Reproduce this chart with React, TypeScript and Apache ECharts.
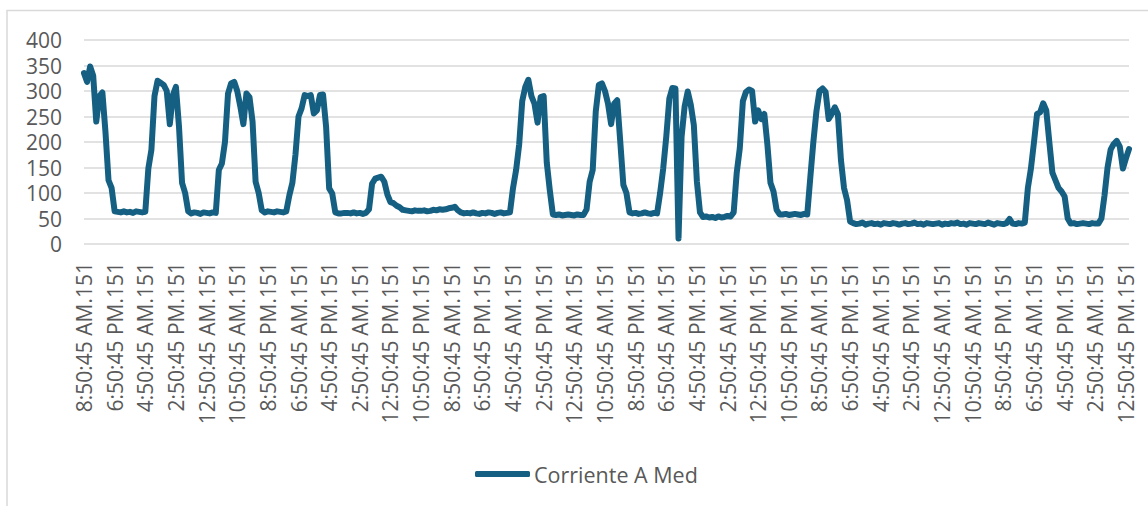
import React, { useEffect, useRef } from "react";
import * as echarts from "echarts";

// Hourly samples, starting 8:50:45 AM
const corrienteAMed: number[] = [
  335, 318, 348, 330, 240, 290, 297, 220, 125, 110,
  64, 63, 62, 64, 62, 63, 61, 64, 63, 62,
  63, 148, 185, 290, 320, 316, 312, 300, 235, 292,
  308, 230, 120, 100, 64, 60, 62, 61, 59, 62,
  61, 60, 62, 61, 145, 158, 200, 295, 315, 318,
  300, 270, 235, 295, 288, 240, 122, 100, 66, 62,
  64, 63, 62, 64, 63, 62, 64, 95, 120, 175,
  250, 266, 292, 290, 292, 256, 262, 292, 293, 230,
  109, 99, 62, 60, 60, 61, 61, 60, 62, 60,
  61, 59, 61, 68, 118, 128, 130, 132, 122, 97,
  82, 80, 75, 72, 67, 66, 65, 64, 66, 65,
  65, 66, 64, 65, 67, 66, 68, 67, 68, 70,
  71, 73, 66, 62, 60, 61, 60, 62, 60, 59,
  61, 60, 62, 61, 59, 61, 62, 60, 61, 62,
  110, 145, 195, 280, 308, 322, 290, 275, 238, 288,
  290, 160, 105, 58, 57, 58, 56, 57, 58, 57,
  56, 58, 57, 57, 68, 122, 145, 260, 312, 315,
  300, 275, 235, 275, 282, 200, 116, 100, 62, 60,
  61, 59, 60, 62, 60, 59, 61, 60, 100, 148,
  210, 285, 306, 305, 11, 210, 270, 299, 273, 233,
  122, 62, 53, 54, 52, 53, 51, 54, 52, 53,
  55, 54, 62, 140, 188, 280, 298, 303, 300, 240,
  262, 245, 255, 195, 120, 103, 67, 58, 58, 59,
  57, 58, 59, 58, 57, 59, 58, 130, 200, 260,
  300, 305, 298, 245, 255, 268, 255, 165, 110, 86,
  44, 41, 39, 40, 42, 38, 40, 41, 39, 40,
  38, 41, 40, 39, 41, 40, 38, 40, 41, 39,
  40, 42, 39, 40, 38, 41, 40, 39, 40, 41,
  38, 40, 39, 41, 40, 42, 39, 40, 38, 41,
  40, 39, 41, 40, 39, 42, 40, 38, 41, 40,
  39, 41, 49, 40, 39, 41, 40, 42, 110, 148,
  200, 255, 258, 276, 262, 200, 140, 125, 110, 103,
  93, 50, 40, 41, 39, 40, 41, 40, 39, 41,
  40, 40, 50, 95, 150, 185, 196, 202, 191, 148,
  168, 186,
];

const TICK_LABELS: string[] = [
  "8:50:45 AM.151", "6:50:45 PM.151", "4:50:45 AM.151", "2:50:45 PM.151",
  "12:50:45 AM.151", "10:50:45 AM.151", "8:50:45 PM.151", "6:50:45 AM.151",
  "4:50:45 PM.151", "2:50:45 AM.151", "12:50:45 PM.151", "10:50:45 PM.151",
  "8:50:45 AM.151", "6:50:45 PM.151", "4:50:45 AM.151", "2:50:45 PM.151",
  "12:50:45 AM.151", "10:50:45 AM.151", "8:50:45 PM.151", "6:50:45 AM.151",
  "4:50:45 PM.151", "2:50:45 AM.151", "12:50:45 PM.151", "10:50:45 PM.151",
  "8:50:45 AM.151", "6:50:45 PM.151", "4:50:45 AM.151", "2:50:45 PM.151",
  "12:50:45 AM.151", "10:50:45 AM.151", "8:50:45 PM.151", "6:50:45 AM.151",
  "4:50:45 PM.151", "2:50:45 AM.151", "12:50:45 PM.151",
];

const START_HOUR = 8;
const categories: string[] = corrienteAMed.map((_, i) => {
  const h24 = (START_HOUR + i) % 24;
  const h12 = h24 % 12 === 0 ? 12 : h24 % 12;
  return `${h12}:50:45 ${h24 < 12 ? "AM" : "PM"}.151`;
});

const SERIES_NAME = "Corriente A Med";
const FONT = "'Open Sans', 'Liberation Sans', sans-serif";
const TEXT_COLOR = "#595959";
const LINE_COLOR = "#156082";
const GRID_COLOR = "#d9d9d9";

export default function App() {
  const ref = useRef<HTMLDivElement>(null);
  useEffect(() => {
    if (!ref.current) return;
    const chart = echarts.init(ref.current, undefined, { renderer: "svg" });
    chart.setOption({
      animation: false,
      backgroundColor: "#ffffff",
      textStyle: { fontFamily: FONT },
      graphic: [
        {
          type: "rect",
          shape: { x: 7, y: 10.5, width: 1200, height: 600 },
          style: { fill: "none", stroke: GRID_COLOR, lineWidth: 1.5 },
          silent: true,
        },
      ],
      grid: { left: 84, right: 19, top: 40, bottom: 262, containLabel: false },
      legend: {
        left: 475,
        top: 463,
        padding: 0,
        itemWidth: 55,
        itemHeight: 6,
        icon: "roundRect",
        itemStyle: { color: LINE_COLOR },
        data: [SERIES_NAME],
        textStyle: { fontFamily: FONT, fontSize: 21.5, color: TEXT_COLOR, padding: [0, 0, 0, -1] },
      },
      xAxis: {
        type: "category",
        boundaryGap: false,
        data: categories,
        axisLine: { show: false },
        axisTick: { show: false },
        splitLine: { show: false },
        axisLabel: {
          rotate: 90,
          interval: 9,
          margin: 18,
          fontFamily: FONT,
          fontSize: 21,
          color: TEXT_COLOR,
          formatter: (v: string, idx: number) =>
            idx % 10 === 0 && TICK_LABELS[idx / 10] ? TICK_LABELS[idx / 10] : v,
        },
      },
      yAxis: {
        type: "value",
        min: 0,
        max: 400,
        interval: 50,
        axisLine: { show: false },
        axisTick: { show: false },
        axisLabel: { margin: 22, fontFamily: FONT, fontSize: 21, lineHeight: 22, color: TEXT_COLOR },
        splitLine: { lineStyle: { color: GRID_COLOR, width: 1.5 } },
      },
      series: [
        {
          name: SERIES_NAME,
          type: "line",
          data: corrienteAMed,
          symbol: "none",
          showSymbol: false,
          lineStyle: { color: LINE_COLOR, width: 6, join: "round", cap: "round" },
          itemStyle: { color: LINE_COLOR },
        },
      ],
    });
    return () => chart.dispose();
  }, []);
  return (
    <div
      ref={ref}
      style={{ position: "fixed", left: 0, top: 0, width: 1148, height: 506 }}
    />
  );
}
